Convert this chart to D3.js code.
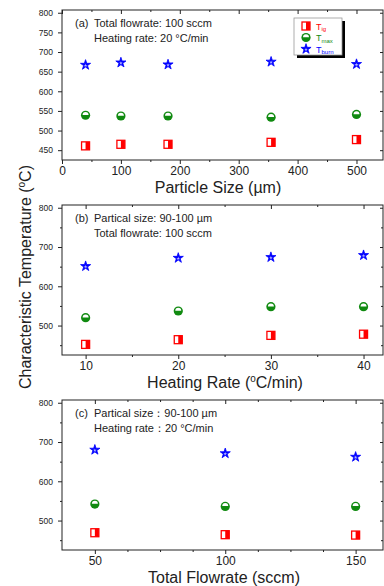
<!DOCTYPE html>
<html>
<head>
<meta charset="utf-8">
<script src="https://cdn.jsdelivr.net/npm/d3@7"></script>
<style>
  body { margin: 0; background: #fff; }
  svg { font-family: "Liberation Sans", Arial, sans-serif; }
  .frame { fill: none; stroke: #222; stroke-width: 1; }
  .axis path { display: none; }
  .axis line { stroke: #222; }
</style>
</head>
<body>
<div id="chart"></div>
<script>
// series labels
var seriesNames = ["Tig", "Tmax", "Tburn"];

// (a) particle size
var sizeX = [40, 100, 180, 355, 500];
var sizeTig = [461, 465, 465, 470, 477];
var sizeTmax = [539, 537, 537, 534, 541];
var sizeTburn = [667, 673, 668, 675, 669];

// (b) heating rate
var rateX = [10, 20, 30, 40];
var rateTig = [452, 464, 475, 478];
var rateTmax = [520, 537, 548, 548];
var rateTburn = [651, 672, 674, 679];

// (c) total flowrate
var flowX = [50, 100, 150];
var flowTig = [469, 464, 463];
var flowTmax = [542, 536, 536];
var flowTburn = [680, 671, 662];

// tick values
var sizeTicks = [0, 100, 200, 300, 400, 500];
var sizeMinor = [50, 150, 250, 350, 450];
var rateTicks = [10, 20, 30, 40];
var rateMinor = [15, 25, 35];
var flowTicks = [50, 100, 150];
var flowMinor = [62.5, 75, 87.5, 112.5, 125, 137.5];
var yTicksA = [450, 500, 550, 600, 650, 700, 750, 800];
var yTicksBC = [500, 600, 700, 800];
var yMinorBC = [450, 550, 650, 750];

var W = 384, H = 586;
var left = 62, right = 383;

var svg = d3.select("#chart").append("svg")
    .attr("width", W)
    .attr("height", H);

var colors = { Tig: "#ff0000", Tmax: "#108a10", Tburn: "#0000ff" };

function marker(g, type, cx, cy) {
  if (type == "Tig") {
    g.append("rect").attr("x", cx - 4).attr("y", cy - 4).attr("width", 8).attr("height", 8)
      .attr("fill", "#fff").attr("stroke", colors.Tig).attr("stroke-width", 1.3);
    g.append("rect").attr("x", cx).attr("y", cy - 4).attr("width", 4).attr("height", 8)
      .attr("fill", colors.Tig);
  } else if (type == "Tmax") {
    g.append("circle").attr("cx", cx).attr("cy", cy).attr("r", 4.6).attr("fill", colors.Tmax);
    var r = 3;
    g.append("path")
      .attr("d", "M" + (cx - r) + "," + (cy - 0.3) + " A" + r + "," + r + " 0 0 1 " + (cx + r) + "," + (cy - 0.3) + " Z")
      .attr("fill", "#fff");
  } else {
    g.append("path")
      .attr("d", d3.symbol(d3.symbolStar, 32)())
      .attr("transform", "translate(" + cx + "," + cy + ")")
      .attr("fill", colors.Tburn).attr("stroke", colors.Tburn).attr("stroke-width", 0.8);
    g.append("path")
      .attr("d", d3.symbol(d3.symbolStar, 4)())
      .attr("transform", "translate(" + cx + "," + (cy + 0.5) + ")")
      .attr("fill", "#b8b8ff");
  }
}

function panel(cfg) {
  var x = d3.scaleLinear().domain(cfg.xDomain).range([left, right]);
  var y = d3.scaleLinear().domain([425, 807]).range([cfg.bottom, cfg.top]);
  var g = svg.append("g");

  // minor ticks
  g.append("g").attr("class", "axis").attr("transform", "translate(0," + cfg.bottom + ")")
    .call(d3.axisBottom(x).tickValues(cfg.xMinor).tickSize(2).tickFormat(""));
  g.append("g").attr("class", "axis").attr("transform", "translate(0," + cfg.top + ")")
    .call(d3.axisBottom(x).tickValues(cfg.xMinor).tickSize(2).tickFormat(""));
  if (cfg.yMinor) {
    g.append("g").attr("class", "axis").attr("transform", "translate(" + left + ",0)")
      .call(d3.axisLeft(y).tickValues(cfg.yMinor).tickSize(2).tickFormat(""));
    g.append("g").attr("class", "axis").attr("transform", "translate(" + right + ",0)")
      .call(d3.axisLeft(y).tickValues(cfg.yMinor).tickSize(2).tickFormat(""));
  }

  // major ticks
  var xa = g.append("g").attr("class", "axis").attr("transform", "translate(0," + cfg.bottom + ")")
    .call(d3.axisBottom(x).tickValues(cfg.xTicks).tickSize(4).tickPadding(2));
  xa.selectAll("text").attr("font-size", 12).attr("fill", "#222");
  g.append("g").attr("class", "axis").attr("transform", "translate(0," + cfg.top + ")")
    .call(d3.axisBottom(x).tickValues(cfg.xTicks).tickSize(4).tickFormat(""));

  var ya = g.append("g").attr("class", "axis").attr("transform", "translate(" + left + ",0)")
    .call(d3.axisLeft(y).tickValues(cfg.yTicks).tickSize(4).tickPadding(5));
  ya.selectAll("text").attr("font-size", 8.5).attr("fill", "#222");
  g.append("g").attr("class", "axis").attr("transform", "translate(" + right + ",0)")
    .call(d3.axisLeft(y).tickValues(cfg.yTicks).tickSize(3).tickFormat(""));

  g.append("rect").attr("class", "frame")
    .attr("x", left).attr("y", cfg.top)
    .attr("width", right - left).attr("height", cfg.bottom - cfg.top);

  // points
  var sets = [cfg.tig, cfg.tmax, cfg.tburn];
  seriesNames.forEach(function(name, i) {
    sets[i].forEach(function(v, j) {
      marker(g, name, x(cfg.xs[j]), y(v));
    });
  });

  // annotation
  g.append("text").attr("x", 75).attr("y", cfg.top + 17).attr("font-size", 11).attr("fill", "#222").text(cfg.tag);
  g.append("text").attr("x", 94).attr("y", cfg.top + 17).attr("font-size", 11).attr("fill", "#222").text(cfg.note1);
  g.append("text").attr("x", 94).attr("y", cfg.top + 32).attr("font-size", 11).attr("fill", "#222").text(cfg.note2);

  // x title
  var t = g.append("text").attr("x", cfg.titleX).attr("y", cfg.bottom + 33)
    .attr("text-anchor", "middle").attr("font-size", 16).attr("fill", "#222");
  cfg.title(t);
}

panel({
  top: 10, bottom: 160, xDomain: [0, 545],
  xTicks: sizeTicks, xMinor: sizeMinor, yTicks: yTicksA, yMinor: null,
  xs: sizeX, tig: sizeTig, tmax: sizeTmax, tburn: sizeTburn,
  tag: "(a)", note1: "Total flowrate: 100 sccm", note2: "Heating rate: 20 \u00B0C/min",
  titleX: 218,
  title: function(t) { t.text("Particle Size (\u00B5m)"); }
});

panel({
  top: 205, bottom: 355, xDomain: [7.45, 42.1],
  xTicks: rateTicks, xMinor: rateMinor, yTicks: yTicksBC, yMinor: yMinorBC,
  xs: rateX, tig: rateTig, tmax: rateTmax, tburn: rateTburn,
  tag: "(b)", note1: "Partical size: 90-100 \u00B5m", note2: "Total flowrate: 100 sccm",
  titleX: 225,
  title: function(t) {
    t.append("tspan").text("Heating Rate (");
    t.append("tspan").attr("font-size", 10).attr("dy", -6).text("o");
    t.append("tspan").attr("dy", 6).text("C/min)");
  }
});

panel({
  top: 400, bottom: 550, xDomain: [37.4, 160.5],
  xTicks: flowTicks, xMinor: flowMinor, yTicks: yTicksBC, yMinor: yMinorBC,
  xs: flowX, tig: flowTig, tmax: flowTmax, tburn: flowTburn,
  tag: "(c)", note1: "Partical size\uFF1A90-100 \u00B5m", note2: "Heating rate\uFF1A20 \u00B0C/min",
  titleX: 224,
  title: function(t) { t.text("Total Flowrate (sccm)"); }
});

// y title
var yt = svg.append("text")
  .attr("transform", "translate(31,277) rotate(-90)")
  .attr("text-anchor", "middle").attr("font-size", 16).attr("fill", "#222");
yt.append("tspan").text("Characteristic Temperature (");
yt.append("tspan").attr("font-size", 10).attr("dy", -6).text("o");
yt.append("tspan").attr("dy", 6).text("C)");

// legend
var lg = svg.append("g");
lg.append("rect").attr("x", 297).attr("y", 21).attr("width", 48).attr("height", 37).attr("fill", "#000");
lg.append("rect").attr("x", 294).attr("y", 18).attr("width", 48).attr("height", 37)
  .attr("fill", "#fff").attr("stroke", "#999").attr("stroke-width", 0.8);
var subs = { Tig: "ig", Tmax: "max", Tburn: "burn" };
seriesNames.forEach(function(name, i) {
  var cy = 26 + i * 11.5;
  marker(lg, name, 306, cy);
  var t = lg.append("text").attr("x", 316).attr("y", cy + 3.5).attr("font-size", 9).attr("fill", colors[name]);
  t.append("tspan").text("T");
  t.append("tspan").attr("font-size", 6).attr("dy", 1.5).text(subs[name]);
});
</script>
</body>
</html>
